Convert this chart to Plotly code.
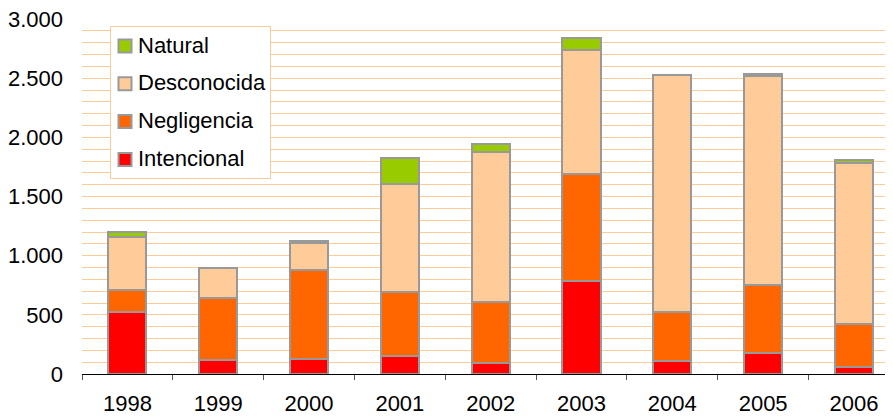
import plotly.graph_objects as go

years = ["1998", "1999", "2000", "2001", "2002", "2003", "2004", "2005", "2006"]
intencional = [522, 116, 127, 150, 96, 789, 113, 180, 62]
negligencia = [186, 524, 750, 541, 510, 903, 409, 576, 358]
desconocida = [453, 254, 231, 913, 1266, 1043, 2001, 1759, 1365]
natural = [37, 3, 12, 220, 73, 104, 3, 18, 22]

series_names = ["Intencional", "Negligencia", "Desconocida", "Natural"]
series_values = [intencional, negligencia, desconocida, natural]
series_colors = ["#FF0000", "#FF6600", "#FFCC99", "#99CC00"]

y_tickvals = [0, 500, 1000, 1500, 2000, 2500, 3000]
y_ticktext = ["0", "500", "1.000", "1.500", "2.000", "2.500", "3.000"]

FONT = "Liberation Sans, Arial, sans-serif"
# the page body has an 8px margin, so the figure is sized to fill the rest of the window
OFF = 8
W, H = 893 - OFF, 418 - OFF
PLOT_L, PLOT_T, PLOT_B = 82, 19, 374   # plot area edges in window pixels
ML, MR, MT, MB = PLOT_L - OFF, 0, PLOT_T - OFF, (H + OFF) - PLOT_B
PW, PH = W - ML - MR, H - MT - MB


def px_x(p):
    return (p - PLOT_L) / PW


def px_y(p):
    return (PLOT_B - p) / PH


fig = go.Figure()
for name, vals, col in zip(series_names, series_values, series_colors):
    fig.add_trace(go.Bar(
        x=years, y=vals, name=name, showlegend=False,
        marker=dict(color=col, line=dict(color="#999999", width=2)),
    ))

# legend box (drawn as shapes + text)
shapes = [dict(type="rect", xref="paper", yref="paper",
               x0=px_x(110.5), x1=px_x(270.5), y0=px_y(178.5), y1=px_y(26.5),
               fillcolor="white", line=dict(color="#FFCC99", width=1), layer="above")]
annotations = []
legend_order = list(range(len(series_names)))[::-1]
for i, k in enumerate(legend_order):
    cy = 46 + i * 37.8
    shapes.append(dict(type="rect", xref="paper", yref="paper",
                       x0=px_x(118.5), x1=px_x(131.5), y0=px_y(cy + 6.5), y1=px_y(cy - 6.5),
                       fillcolor=series_colors[k], line=dict(color="#999999", width=2),
                       layer="above"))
    annotations.append(dict(xref="paper", yref="paper", x=px_x(136), y=px_y(cy - 1),
                            xanchor="left", yanchor="middle", showarrow=False,
                            text=series_names[k],
                            font=dict(family=FONT, size=22, color="#000000")))

fig.update_layout(
    width=W, height=H,
    margin=dict(l=ML, r=MR, t=MT, b=MB),
    barmode="stack", bargap=0.58,
    plot_bgcolor="white", paper_bgcolor="white",
    font=dict(family=FONT, size=22, color="#000000"),
    showlegend=False,
    shapes=shapes, annotations=annotations,
    xaxis=dict(
        type="category", range=[-0.5, 8.43], automargin=False,
        showline=True, linecolor="#000000", linewidth=1,
        ticks="outside", ticklen=5, tickcolor="#555555", tickson="boundaries",
        showgrid=False, ticklabelstandoff=10,
    ),
    yaxis=dict(
        range=[0, 3000], tickvals=y_tickvals, ticktext=y_ticktext, automargin=False,
        showline=False, zeroline=False, ticklabeloverflow="allow",
        showgrid=True, gridcolor="#FFCC99", gridwidth=1,
        minor=dict(dtick=100, showgrid=True, gridcolor="#FFCC99", gridwidth=1),
        ticks="", ticklabelstandoff=18,
    ),
)

fig.write_html("out.html")
